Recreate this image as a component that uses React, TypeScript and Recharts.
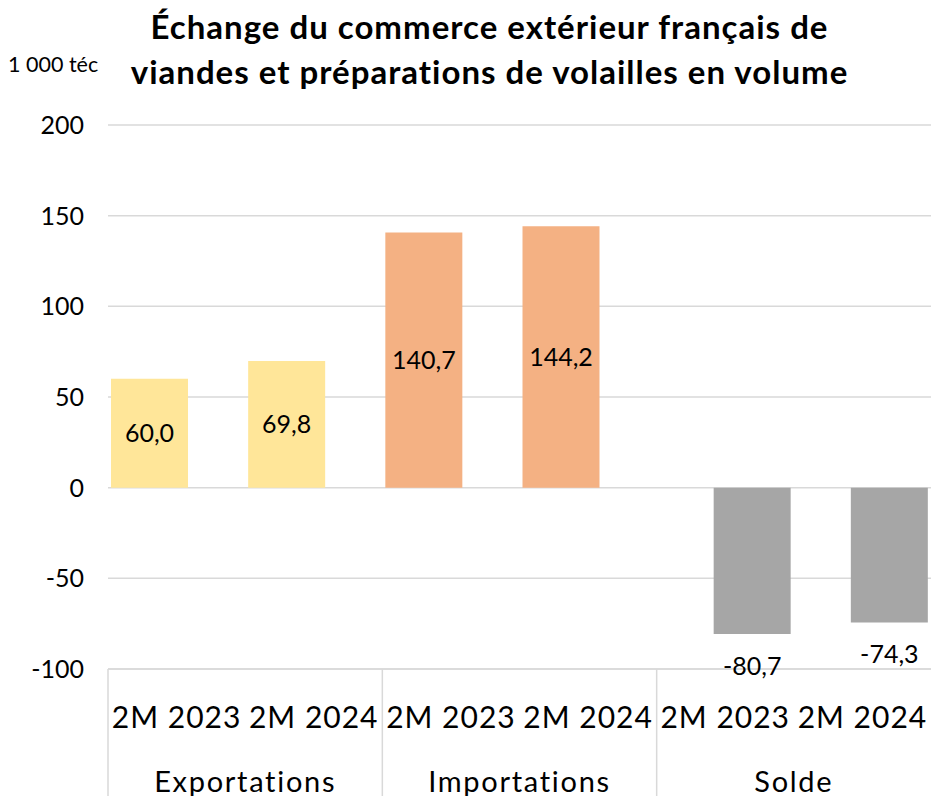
import { BarChart, Bar, XAxis, YAxis, CartesianGrid, LabelList } from 'recharts'

const periodes = ['2M 2023', '2M 2024', '2M 2023', '2M 2024', '2M 2023', '2M 2024']
const groupes = ['Exportations', 'Exportations', 'Importations', 'Importations', 'Solde', 'Solde']
const exportations = [60.0, 69.8, null, null, null, null]
const importations = [null, null, 140.7, 144.2, null, null]
const solde = [null, null, null, null, -80.7, -74.3]
const yTicks = [-100, -50, 0, 50, 100, 150, 200]

const data = periodes.map((p, i) => ({
  periode: p,
  groupe: groupes[i],
  exportations: exportations[i],
  importations: importations[i],
  solde: solde[i],
}))

const WIDTH = 931
const HEIGHT = 796
const Y_AXIS_W = 108
const X_AXIS_H = 127
const BAND = (WIDTH - Y_AXIS_W) / periodes.length
const FONT = 'Lato, "Open Sans", sans-serif'
const GRID = '#d9d9d9'

const fmt = (v: unknown) => (typeof v === 'number' ? v.toFixed(1).replace('.', ',') : '')

function PeriodTick(props: any) {
  const { x, y, payload, index } = props
  const first = index % 2 === 0
  return (
    <g>
      <text
        x={x}
        y={y + 47}
        textAnchor="middle"
        dominantBaseline="central"
        fontSize={30}
        letterSpacing={1}
        fontFamily={FONT}
        fill="#000"
      >
        {payload.value}
      </text>
      {first && (
        <>
          <line x1={x - BAND / 2} y1={y} x2={x - BAND / 2} y2={y + X_AXIS_H} stroke={GRID} strokeWidth={1.5} />
          <text
            x={x + BAND / 2}
            y={y + 111}
            textAnchor="middle"
            dominantBaseline="central"
            fontSize={29}
            letterSpacing={1.7}
            fontFamily={FONT}
            fill="#000"
          >
            {data[index].groupe}
          </text>
        </>
      )}
    </g>
  )
}

export default function App() {
  return (
    <div style={{ position: 'absolute', left: 0, top: 0, width: WIDTH, height: HEIGHT, background: '#fff', fontFamily: FONT }}>
      <div
        style={{
          position: 'absolute',
          left: 0,
          width: WIDTH,
          top: 4,
          textAlign: 'center',
          fontWeight: 700,
          fontSize: 33,
          letterSpacing: 1,
          lineHeight: '45px',
          paddingLeft: 48,
          boxSizing: 'border-box',
        }}
      >
        Échange du commerce extérieur français de
        <br />
        viandes et préparations de volailles en volume
      </div>
      <div style={{ position: 'absolute', left: 8, top: 51, fontSize: 21.5 }}>1 000 téc</div>
      <BarChart
        width={WIDTH}
        height={HEIGHT}
        data={data}
        margin={{ top: 125, right: 0, bottom: 0, left: 0 }}
        barGap={-23}
      >
        <CartesianGrid vertical={false} stroke={GRID} strokeWidth={1.5} />
        <XAxis
          dataKey="periode"
          height={X_AXIS_H}
          interval={0}
          tickLine={false}
          tickSize={0}
          tickMargin={0}
          axisLine={{ stroke: GRID, strokeWidth: 1.5 }}
          tick={<PeriodTick />}
        />
        <YAxis
          width={Y_AXIS_W}
          domain={[-100, 200]}
          ticks={yTicks}
          tickLine={false}
          axisLine={false}
          tickSize={0}
          tickMargin={24}
          tick={{ fill: '#000', fontSize: 25, fontFamily: FONT }}
        />
        <Bar dataKey="exportations" stackId="a" fill="#FFE699" barSize={77} isAnimationActive={false}>
          <LabelList dataKey="exportations" position="center" formatter={fmt} fill="#000" fontSize={25} fontFamily={FONT} />
        </Bar>
        <Bar dataKey="importations" stackId="a" fill="#F4B183" barSize={77} isAnimationActive={false}>
          <LabelList dataKey="importations" position="center" formatter={fmt} fill="#000" fontSize={25} fontFamily={FONT} />
        </Bar>
        <Bar dataKey="solde" stackId="b" fill="#A6A6A6" barSize={77} isAnimationActive={false}>
          <LabelList dataKey="solde" position="top" offset={23} formatter={fmt} fill="#000" fontSize={25} fontFamily={FONT} />
        </Bar>
      </BarChart>
    </div>
  )
}
